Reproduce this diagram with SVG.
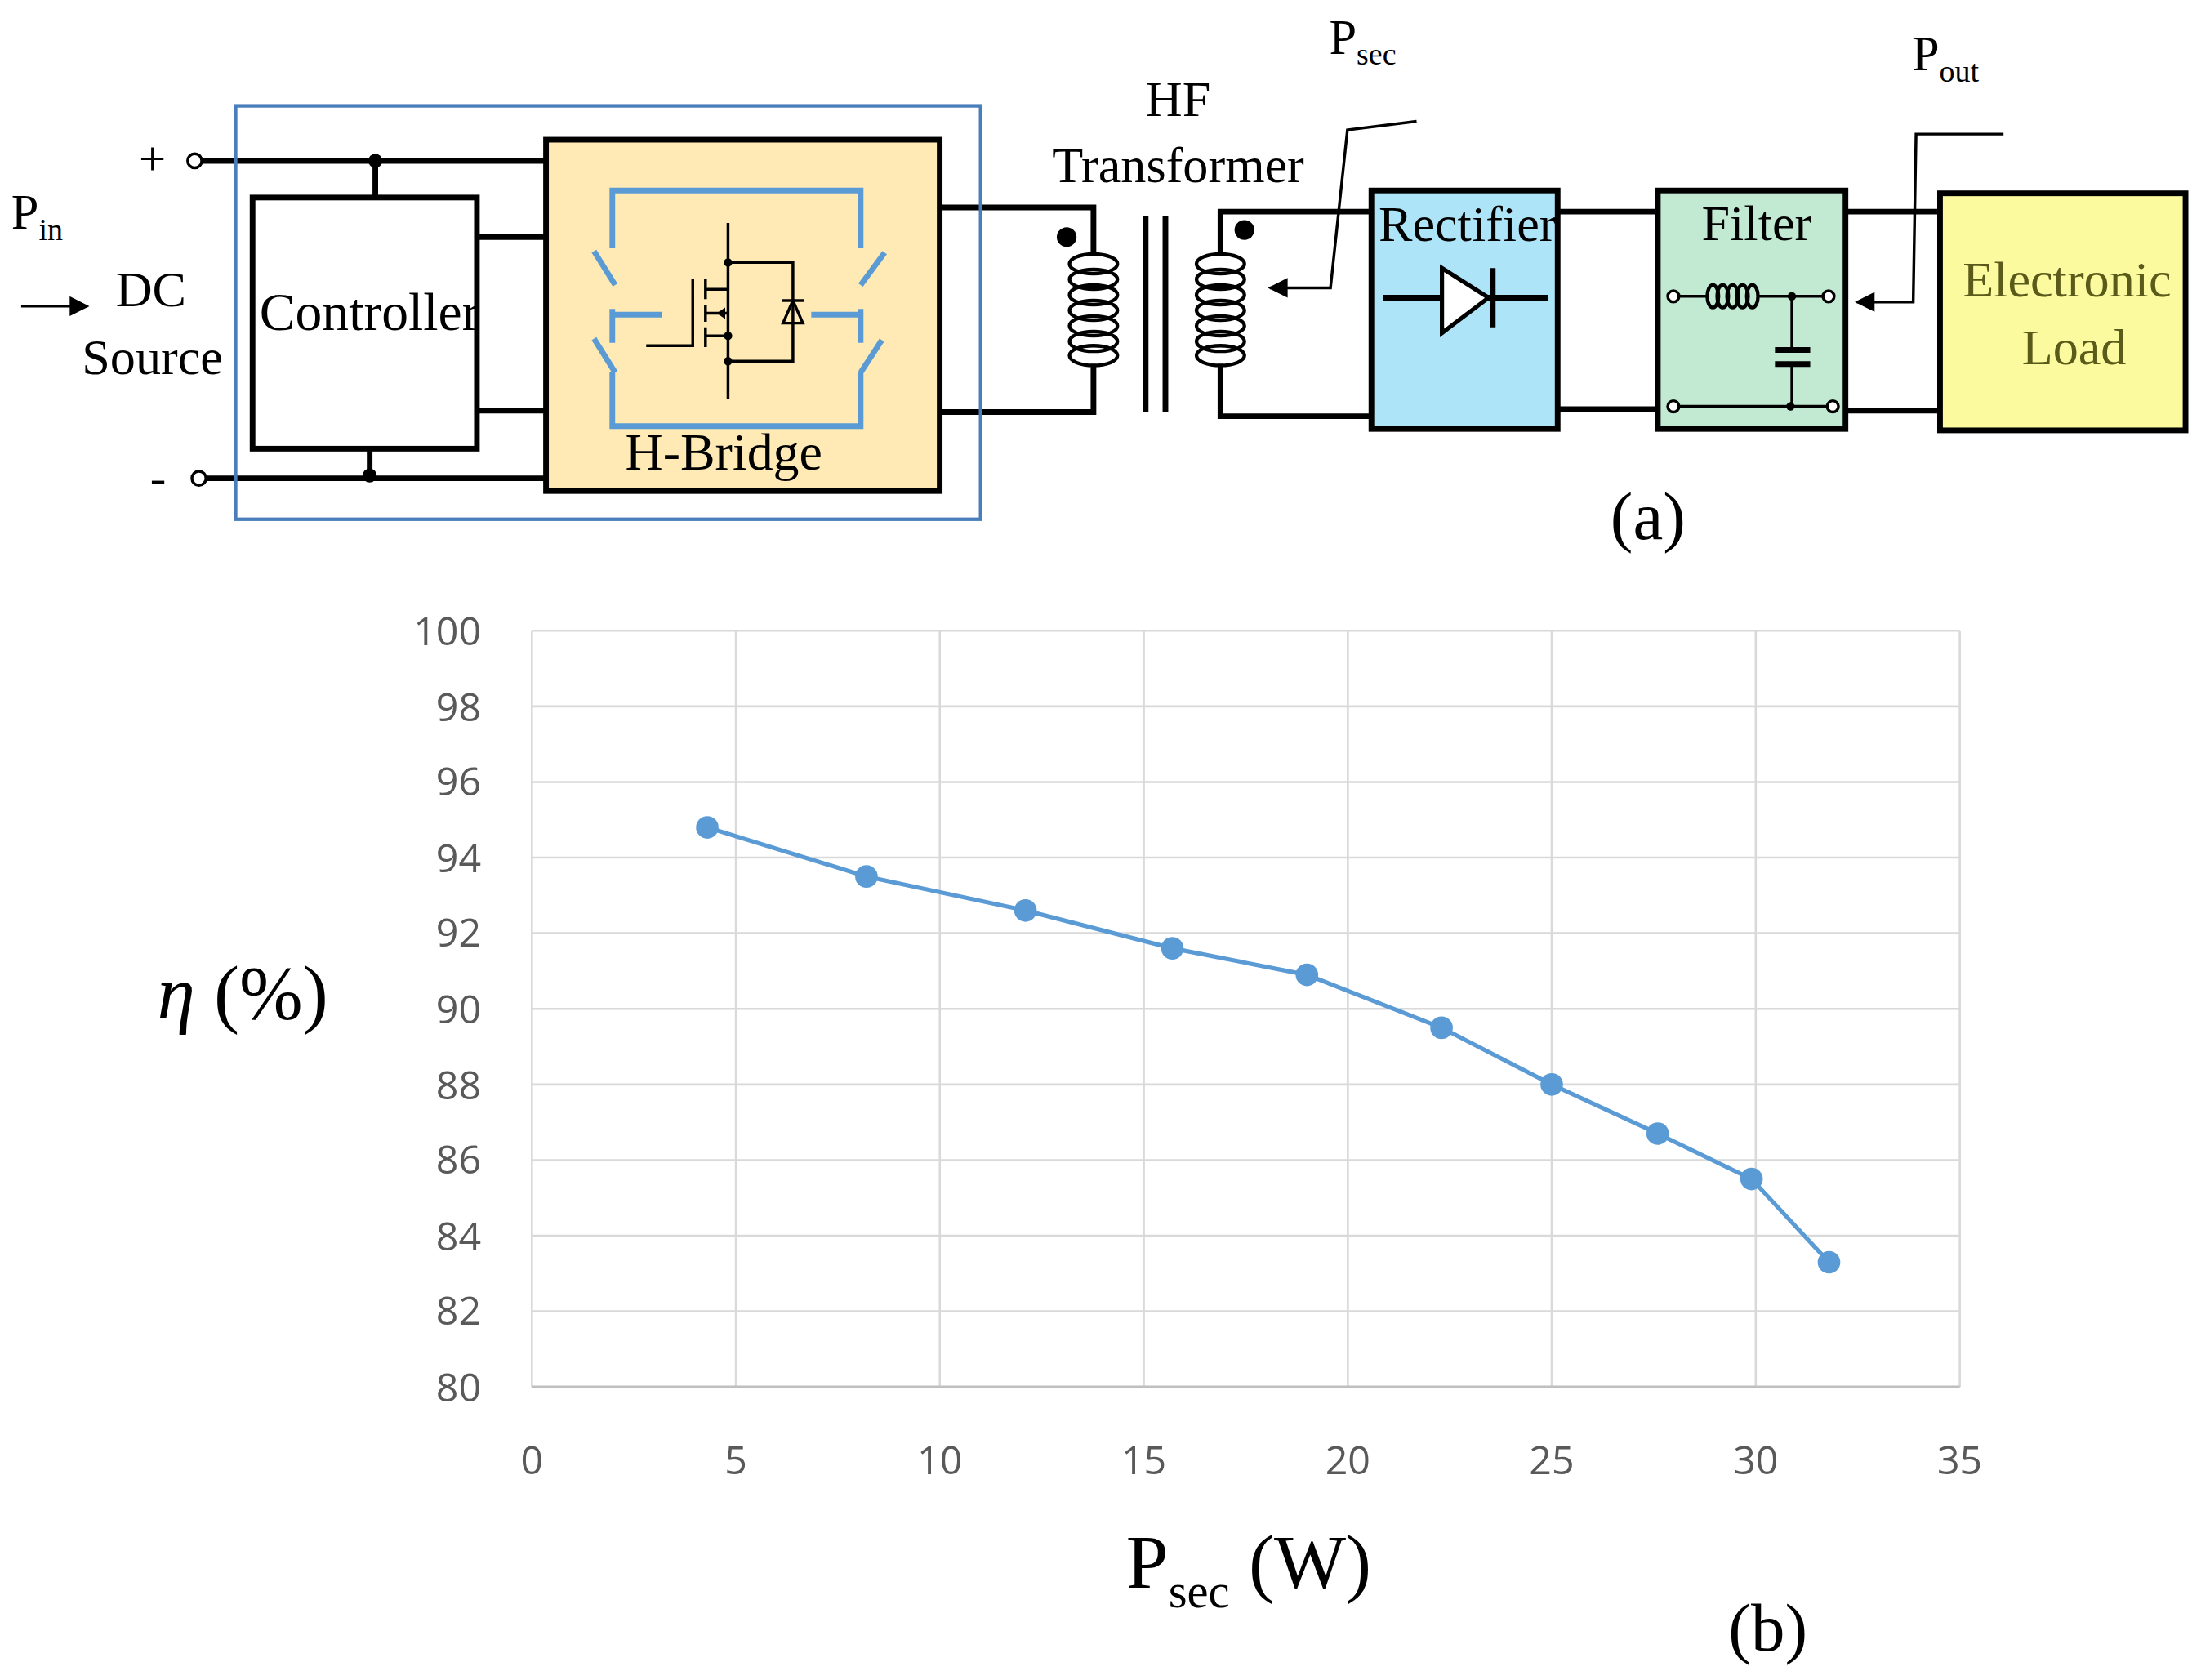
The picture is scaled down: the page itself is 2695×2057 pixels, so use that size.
<svg xmlns="http://www.w3.org/2000/svg" width="2695" height="2057" viewBox="0 0 2695 2057">
<style>
.w{stroke:#000;stroke-width:4;fill:none}
.t{stroke:#000;stroke-width:2;fill:none}
.b{stroke:#5b9bd5;stroke-width:4;fill:none}
.box{stroke:#000;stroke-width:4}
.s{font-family:"Liberation Serif",serif;fill:#000}
.g{stroke:#d9d9d9;stroke-width:1.5}
.ax{font-family:"Open Sans","Liberation Sans",sans-serif;font-size:28px;fill:#595959}
.coil{fill:none;stroke:#000;stroke-width:2.5}
</style>
<defs>
<marker id="ah" viewBox="0 0 10 10" refX="9" refY="5" markerWidth="16" markerHeight="14" markerUnits="userSpaceOnUse" orient="auto"><path d="M0,0L10,5L0,10z" fill="#000"/></marker>
</defs>
<rect width="2695" height="2057" fill="#fff"/>
<g transform="scale(1.7276)">
<g id="connectors">
<path class="w" d="M143,114H387M266,114V140M146,339H387M262,318V337M338,168H387M338,291H387"/>
<circle cx="266" cy="114" r="5"/><circle cx="262" cy="337" r="5"/>
<path class="w" d="M666,147H775V180M666,292H775V258M865,180V150H972M865,258V295H972M1104,150H1175M1104,290H1175M1308,150H1375M1308,291H1375"/>
<path class="t" d="M1004,86L955,92L943,204H900" marker-end="url(#ah)"/>
<path class="t" d="M1420,95H1358L1356,214H1316" marker-end="url(#ah)"/>
<path class="t" d="M15,217H62" marker-end="url(#ah)"/>
</g>
<g id="terminals">
<circle cx="138" cy="114" r="5" fill="#fff" stroke="#000" stroke-width="2"/>
<circle cx="141" cy="339" r="5" fill="#fff" stroke="#000" stroke-width="2"/>
<text class="s" x="108" y="124" font-size="34" text-anchor="middle">+</text>
<text class="s" x="112" y="350" font-size="34" text-anchor="middle">-</text>
</g>
<g id="pin">
<text class="s" x="8" y="162" font-size="35">P<tspan font-size="22" dy="8">in</tspan></text>
<text class="s" x="107" y="217" font-size="36" text-anchor="middle">DC</text>
<text class="s" x="108" y="265" font-size="36" text-anchor="middle">Source</text>
</g>
<rect id="inverter-frame" x="167" y="75" width="528" height="293" fill="none" stroke="#4a7ebb" stroke-width="2.5"/>
<g id="controller">
<rect class="box" x="179" y="140" width="159" height="178" fill="#fff"/>
<text class="s" x="262" y="234" font-size="38" text-anchor="middle">Controller</text>
</g>
<g id="hbridge">
<rect class="box" x="387" y="99" width="279" height="249" fill="#ffeab6"/>
<path class="b" d="M434,176V135H610V176M421,178L436,202M434,219V243M434,223H469M421,240L436,264M434,264V302H610V264M627,179L610,202M610,219V243M610,223H575M625,241L610,264"/>
<path class="t" d="M516,158V283M516,186H562V256H516M458,245H491V198M500,198V212M500,216V228M500,232V246M500,205H516M500,222H516M500,238H516"/>
<path d="M508,222L514,218V226z"/>
<path d="M562,213L555,229H569z" fill="none" stroke="#000" stroke-width="2"/>
<path class="t" d="M554,213H570"/>
<circle cx="516" cy="186" r="3"/><circle cx="516" cy="238" r="3"/><circle cx="516" cy="256" r="3"/>
<text class="s" x="513" y="333" font-size="37" text-anchor="middle">H-Bridge</text>
</g>
<g id="transformer">
<g class="coil">
<ellipse cx="775" cy="187" rx="17" ry="7"/><ellipse cx="775" cy="198" rx="17" ry="7"/><ellipse cx="775" cy="209" rx="17" ry="7"/><ellipse cx="775" cy="220" rx="17" ry="7"/><ellipse cx="775" cy="231" rx="17" ry="7"/><ellipse cx="775" cy="242" rx="17" ry="7"/><ellipse cx="775" cy="252" rx="17" ry="7"/>
<ellipse cx="865" cy="187" rx="17" ry="7"/><ellipse cx="865" cy="198" rx="17" ry="7"/><ellipse cx="865" cy="209" rx="17" ry="7"/><ellipse cx="865" cy="220" rx="17" ry="7"/><ellipse cx="865" cy="231" rx="17" ry="7"/><ellipse cx="865" cy="242" rx="17" ry="7"/><ellipse cx="865" cy="252" rx="17" ry="7"/>
</g>
<path class="w" d="M812,153V292M826,153V292"/>
<circle cx="756" cy="168" r="7"/><circle cx="882" cy="163" r="7"/>
<text class="s" x="835" y="82" font-size="36" text-anchor="middle">HF</text>
<text class="s" x="835" y="129" font-size="36" text-anchor="middle">Transformer</text>
<text class="s" x="942" y="38" font-size="35">P<tspan font-size="22" dy="8">sec</tspan></text>
</g>
<g id="rectifier">
<rect class="box" x="972" y="135" width="132" height="169" fill="#aee4f7"/>
<text class="s" x="1040" y="171" font-size="36" text-anchor="middle">Rectifier</text>
<path class="w" d="M980,211H1097M1058,190V232"/>
<path d="M1022,190V236L1055,211z" fill="#fff" stroke="#000" stroke-width="3"/>
</g>
<g id="filter">
<rect class="box" x="1175" y="135" width="133" height="169" fill="#c2ead2"/>
<text class="s" x="1245" y="170" font-size="36" text-anchor="middle">Filter</text>
<g class="coil" stroke-width="2">
<ellipse cx="1214" cy="210" rx="4" ry="8"/><ellipse cx="1221" cy="210" rx="4" ry="8"/><ellipse cx="1228" cy="210" rx="4" ry="8"/><ellipse cx="1235" cy="210" rx="4" ry="8"/><ellipse cx="1242" cy="210" rx="4" ry="8"/>
</g>
<path class="t" d="M1190,210H1210M1246,210H1292M1270,210V248M1270,258V288M1190,288H1295" stroke-width="2.5"/>
<path class="w" d="M1258,248H1283M1258,258H1283" stroke-width="3"/>
<circle cx="1186" cy="210" r="4" fill="#fff" stroke="#000" stroke-width="2"/>
<circle cx="1296" cy="210" r="4" fill="#fff" stroke="#000" stroke-width="2"/>
<circle cx="1186" cy="288" r="4" fill="#fff" stroke="#000" stroke-width="2"/>
<circle cx="1299" cy="288" r="4" fill="#fff" stroke="#000" stroke-width="2"/>
<circle cx="1270" cy="210" r="3"/><circle cx="1269" cy="288" r="3"/>
</g>
<g id="load">
<rect class="box" x="1375" y="137" width="174" height="168" fill="#fbfa9f"/>
<text class="s" x="1465" y="210" font-size="36" text-anchor="middle" style="fill:#5a5a1a">Electronic</text>
<text class="s" x="1470" y="258" font-size="36" text-anchor="middle" style="fill:#5a5a1a">Load</text>
<text class="s" x="1355" y="50" font-size="35">P<tspan font-size="22" dy="8">out</tspan></text>
</g>
<text class="s" x="1168" y="382" font-size="48" text-anchor="middle">(a)</text>
<g id="chart">
<path class="g" d="M377,447H1389M377,500.6H1389M377,554.2H1389M377,607.8H1389M377,661.4H1389M377,715H1389M377,768.6H1389M377,822.2H1389M377,875.8H1389M377,929.4H1389M377,447V983M521.6,447V983M666.1,447V983M810.7,447V983M955.3,447V983M1099.8,447V983M1244.4,447V983M1389,447V983"/>
<path d="M377,983H1389" stroke="#bfbfbf" stroke-width="2"/>
<g class="ax" text-anchor="end">
<text x="341" y="457">100</text><text x="341" y="511">98</text><text x="341" y="564">96</text><text x="341" y="618">94</text><text x="341" y="671">92</text><text x="341" y="725">90</text><text x="341" y="779">88</text><text x="341" y="832">86</text><text x="341" y="886">84</text><text x="341" y="939">82</text><text x="341" y="993">80</text>
</g>
<g class="ax" text-anchor="middle">
<text x="377" y="1045">0</text><text x="521.6" y="1045">5</text><text x="666.1" y="1045">10</text><text x="810.7" y="1045">15</text><text x="955.3" y="1045">20</text><text x="1099.8" y="1045">25</text><text x="1244.4" y="1045">30</text><text x="1389" y="1045">35</text>
</g>
<polyline points="501.3,586.4 614.1,621.2 726.8,645.3 830.9,672.1 926.3,690.9 1021.7,728.4 1099.8,768.6 1174.9,803.4 1241.4,835.6 1296.3,894.6" fill="none" stroke="#5b9bd5" stroke-width="3"/>
<g fill="#5b9bd5">
<circle cx="501.3" cy="586.4" r="8"/><circle cx="614.1" cy="621.2" r="8"/><circle cx="726.8" cy="645.3" r="8"/><circle cx="830.9" cy="672.1" r="8"/><circle cx="926.3" cy="690.9" r="8"/><circle cx="1021.7" cy="728.4" r="8"/><circle cx="1099.8" cy="768.6" r="8"/><circle cx="1174.9" cy="803.4" r="8"/><circle cx="1241.4" cy="835.6" r="8"/><circle cx="1296.3" cy="894.6" r="8"/>
</g>
<text class="s" x="172" y="722" font-size="54" text-anchor="middle"><tspan font-style="italic">η</tspan> (%)</text>
<text class="s" x="885" y="1125" font-size="54" text-anchor="middle">P<tspan font-size="34" dy="14">sec</tspan><tspan dy="-14"> (W)</tspan></text>
<text class="s" x="1253" y="1170" font-size="48" text-anchor="middle">(b)</text>
</g>
</g>
</svg>
